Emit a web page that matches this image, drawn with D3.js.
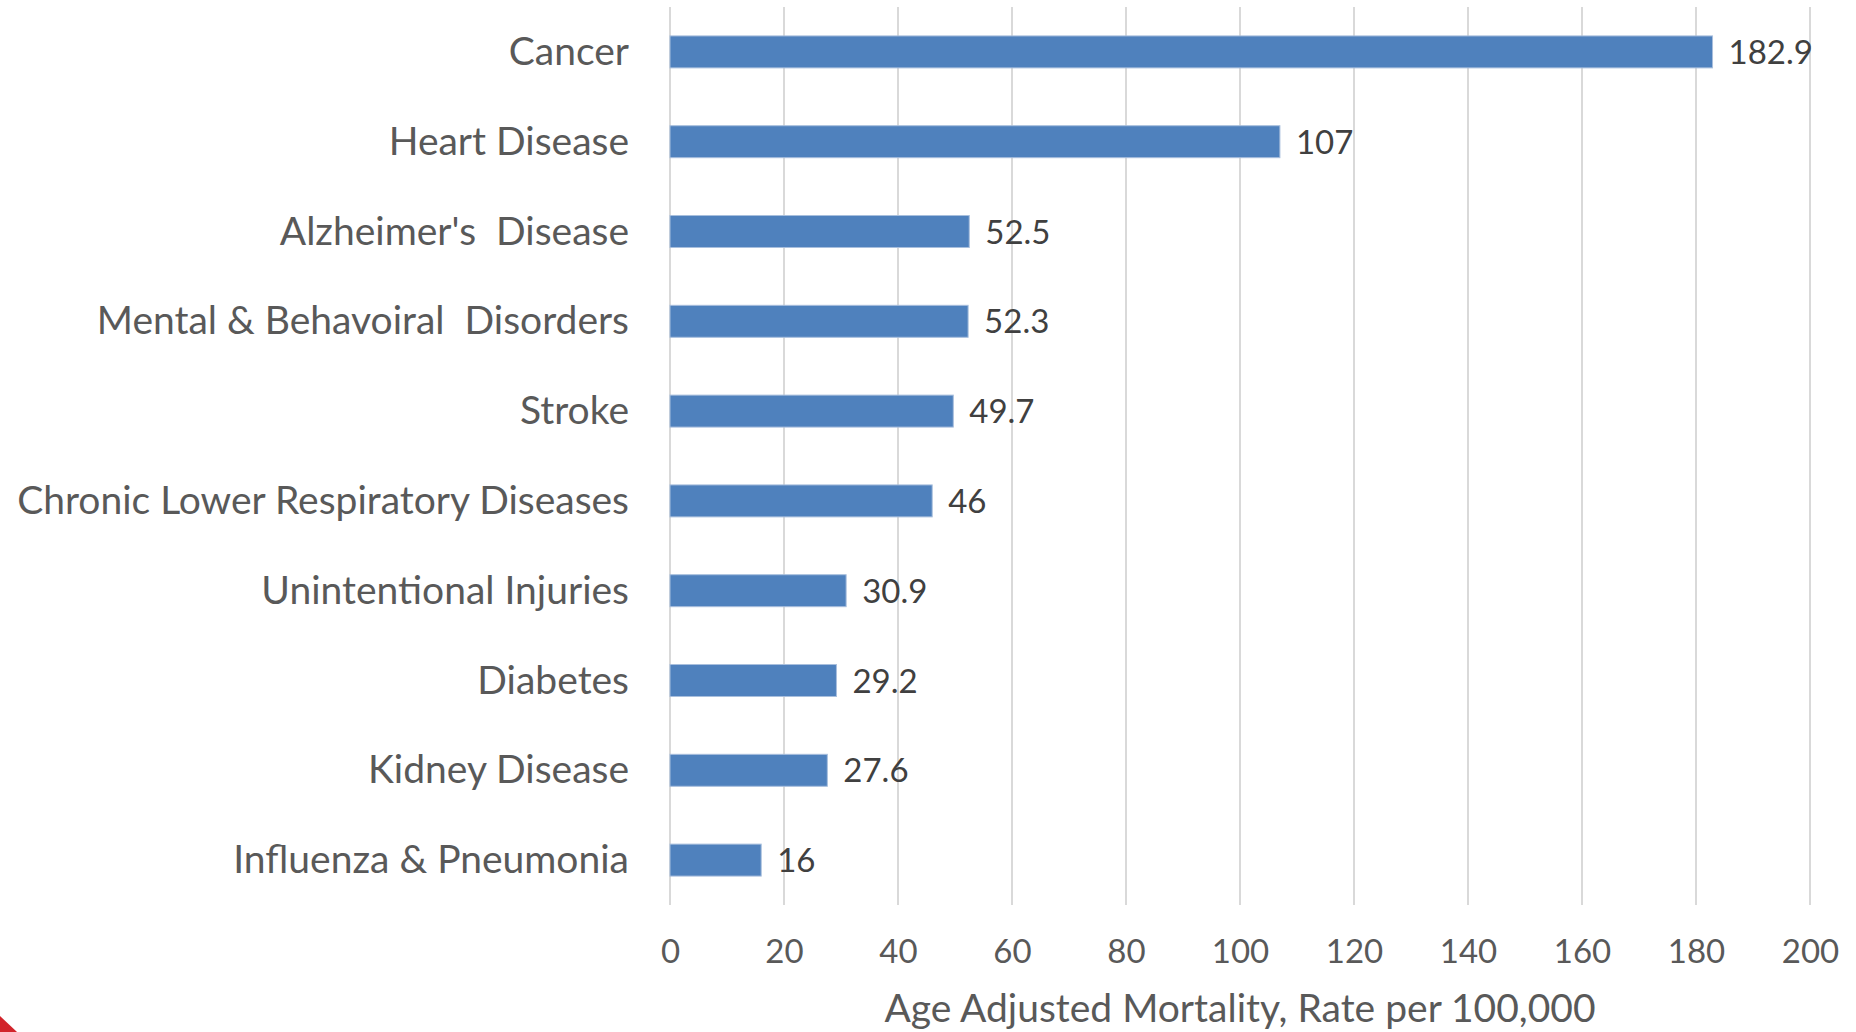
<!DOCTYPE html>
<html>
<head>
<meta charset="utf-8">
<script src="https://cdn.jsdelivr.net/npm/d3@7/dist/d3.min.js"></script>
<style>
  html, body { margin: 0; padding: 0; background: #fff; }
  svg { display: block; }
  text { font-family: 'Lato', 'Open Sans', sans-serif; white-space: pre; }
</style>
</head>
<body>
<div id="chart"></div>
<script>
// causes of death, top to bottom as drawn
const categories = [
  'Cancer',
  'Heart Disease',
  "Alzheimer's  Disease",
  'Mental & Behavoiral  Disorders',
  'Stroke',
  'Chronic Lower Respiratory Diseases',
  'Unintentional Injuries',
  'Diabetes',
  'Kidney Disease',
  'Influenza & Pneumonia'
];
const rates = [182.9, 107, 52.5, 52.3, 49.7, 46, 30.9, 29.2, 27.6, 16];
const xTicks = [0, 20, 40, 60, 80, 100, 120, 140, 160, 180, 200];
const xTitle = 'Age Adjusted Mortality, Rate per 100,000';

const W = 1856, H = 1032;
const margin = {top: 7, right: 46, bottom: 127, left: 670};
const plotW = W - margin.left - margin.right;
const plotH = H - margin.top - margin.bottom;

const data = categories.map((c, i) => ({name: c, value: rates[i]}));

const svg = d3.select('#chart').append('svg')
  .attr('width', W)
  .attr('height', H);

const g = svg.append('g')
  .attr('transform', 'translate(' + margin.left + ',' + margin.top + ')');

const x = d3.scaleLinear().domain([0, 200]).range([0, plotW]);
const gap = 0.644;
const y = d3.scaleBand().domain(categories).range([0, plotH])
  .paddingInner(gap).paddingOuter(gap / 2);

// vertical gridlines
g.append('g').selectAll('line')
  .data(xTicks)
  .enter().append('line')
    .attr('x1', d => x(d)).attr('x2', d => x(d))
    .attr('y1', 0).attr('y2', plotH)
    .attr('stroke', '#d9d9d9')
    .attr('stroke-width', 2);

// tick labels
const xAxis = d3.axisBottom(x).tickValues(xTicks).tickSize(0).tickPadding(0);
const ax = g.append('g')
  .attr('transform', 'translate(0,' + (plotH + 33) + ')')
  .call(xAxis);
ax.select('.domain').remove();
ax.selectAll('text')
  .attr('dy', 0)
  .attr('y', 25)
  .attr('fill', '#595959')
  .style('font-family', "'Lato', 'Open Sans', sans-serif")
  .style('font-size', '33px');

// bars
g.append('g').selectAll('rect')
  .data(data)
  .enter().append('rect')
    .attr('x', x(0))
    .attr('y', d => y(d.name))
    .attr('width', d => x(d.value) - x(0))
    .attr('height', y.bandwidth())
    .attr('fill', '#4f81bd')
    .attr('stroke', '#a8bfdd')
    .attr('stroke-width', 1);

// value labels
g.append('g').selectAll('text')
  .data(data)
  .enter().append('text')
    .attr('x', d => x(d.value) + 16)
    .attr('y', d => y(d.name) + y.bandwidth() / 2 + 12)
    .attr('fill', '#404040')
    .style('font-size', '33px')
    .text(d => d.value);

// category labels
g.append('g').selectAll('text')
  .data(data)
  .enter().append('text')
    .attr('x', -41)
    .attr('y', d => y(d.name) + y.bandwidth() / 2 + 13)
    .attr('text-anchor', 'end')
    .attr('fill', '#595959')
    .style('font-size', '39px')
    .text(d => d.name);

// axis title
g.append('text')
  .attr('x', plotW / 2)
  .attr('y', plotH + 117)
  .attr('text-anchor', 'middle')
  .attr('fill', '#595959')
  .style('font-size', '39px')
  .text(xTitle);

// red slide corner at bottom left
svg.append('path')
  .attr('d', 'M0,' + (H - 16) + 'L17,' + H + 'L0,' + H + 'Z')
  .attr('fill', '#d2232a');
</script>
</body>
</html>
